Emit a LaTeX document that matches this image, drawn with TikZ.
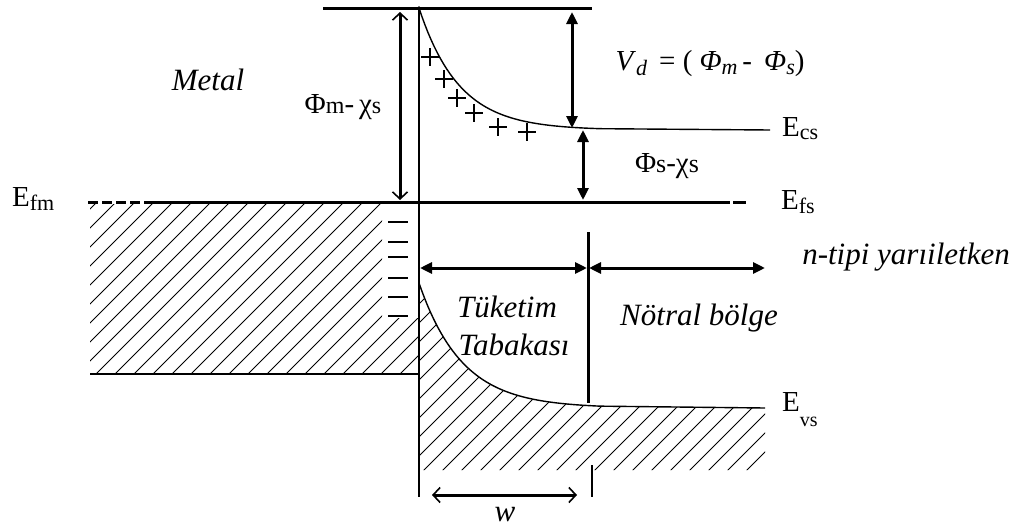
\documentclass[tikz,border=0pt]{standalone}
\usepackage{fontspec}
\setmainfont{Liberation Serif}
\usetikzlibrary{arrows.meta}
\newcommand{\fsz}[1]{\fontsize{#1}{#1}\selectfont}
\newcommand{\lowsub}[3]{\raisebox{-#1}{\fsz{#2}#3}}
\begin{document}
\begin{tikzpicture}[x=1pt,y=-1pt,
  thickline/.style={line width=3pt},
  thinline/.style={line width=1.4pt},
  hatchline/.style={line width=1pt},
  fillarrow/.style={line width=3pt,{Triangle[length=12pt,width=11pt]}-{Triangle[length=12pt,width=11pt]}},
  barbarrow/.style={line width=3pt,{Straight Barb[length=7pt,width=15pt,line width=1.6pt]}-{Straight Barb[length=7pt,width=15pt,line width=1.6pt]}},
  lab/.style={font=\fsz{29}, inner sep=0pt, anchor=center},
  itlab/.style={font=\fsz{31}\itshape, inner sep=0pt, anchor=center},
]
\useasboundingbox (0,0) rectangle (1021,530);

% ---- hatching (metal) ----
\begin{scope}
\clip (90,204) -- (382,204) -- (382,318) -- (419,318) -- (419,374) -- (90,374) -- cycle;
\foreach \i in {-10,...,18} \draw[hatchline] (90+19*\i,380) -- ++(190,-190);
\end{scope}
% ---- hatching (semiconductor valence) ----
\begin{scope}
\clip plot[domain=419:600,samples=60] (\x,{408-125*exp(-(\x-419)/43)}) -- (765,408) -- (765,470) -- (419,470) -- cycle;
\foreach \i in {-10,...,20} \draw[hatchline] (419+19*\i,475) -- ++(200,-200);
\end{scope}

% ---- coordinates ----
\coordinate (topL) at (323,8);
\coordinate (topR) at (592,8);
\coordinate (ifTop) at (419,8);
\coordinate (ifBot) at (419,497);
\coordinate (csEnd) at (770,130);
\coordinate (fmL) at (88,202);
\coordinate (fmS) at (145,202);
\coordinate (fsR) at (730,202);
\coordinate (fsD1) at (733,202);
\coordinate (fsD2) at (746,202);
\coordinate (mbL) at (90,374);
\coordinate (mbR) at (419,374);
\coordinate (vbEnd) at (765,408);
\coordinate (a1t) at (400,12);
\coordinate (a1b) at (400,200);
\coordinate (a2t) at (572,12);
\coordinate (a2b) at (572,128);
\coordinate (a3t) at (583,130);
\coordinate (a3b) at (583,200);
\coordinate (d1L) at (420,268);
\coordinate (d1R) at (587,268);
\coordinate (d2L) at (589,268);
\coordinate (d2R) at (765,268);
\coordinate (vT) at (588,232);
\coordinate (vB) at (588,403);
\coordinate (sT) at (592,465);
\coordinate (sB) at (592,497);
\coordinate (wL) at (432,495);
\coordinate (wR) at (577,495);

% ---- levels ----
\draw[thickline] (topL) -- (topR);
\draw[line width=1.5pt] (ifTop) -- (ifBot);
\fill (ifTop) circle (1.8pt);
\draw[thinline] plot[domain=419:600,samples=60] (\x,{130-122*exp(-(\x-419)/40)}) -- (csEnd);
\draw[thickline, dash pattern=on 10pt off 4pt] (fmL) -- (fmS);
\draw[thickline] (fmS) -- (fsR);
\draw[thickline] (fsD1) -- (fsD2);
\draw[thinline] (mbL) -- (mbR);
\draw[thinline] plot[domain=419:600,samples=60] (\x,{408-125*exp(-(\x-419)/43)}) -- (vbEnd);

% ---- charges ----
\foreach \x/\y in {430/57, 444/79, 457/98, 474/113, 498/127, 527/132}
  \draw[line width=1.4pt] (\x-9,\y) -- (\x+9,\y) (\x,\y-9) -- (\x,\y+9);
\foreach \y in {222,242,257,278,297,316}
  \draw[line width=2pt] (388,\y) -- (408,\y);

% ---- arrows ----
\draw[barbarrow] (a1t) -- (a1b);
\draw[fillarrow] (a2t) -- (a2b);
\draw[fillarrow] (a3t) -- (a3b);
\draw[fillarrow] (d1L) -- (d1R);
\draw[fillarrow] (d2L) -- (d2R);
\draw[line width=3pt] (vT) -- (vB);
\draw[line width=1.5pt] (sT) -- (sB);
\draw[barbarrow] (wL) -- (wR);

% ---- labels ----
\node[itlab] (metal) at (208,80) {Metal};
\node[lab] (phimchi) at (343,107) {Φ{\fsz{24}m}-\,χ{\fsz{24}s}};
\node[lab, anchor=base west] (efm) at (12,206) {E\lowsub{4pt}{22}{fm}};
\node[lab] (vd) at (710,64) {\textit{V}\lowsub{5pt}{22}{\textit{d}} \,= ( \textit{Φ}\lowsub{4pt}{22}{\textit{m}}\,-\, \textit{Φ}\lowsub{4pt}{22}{\textit{s}})};
\node[lab, anchor=base west] (ecs) at (782,136) {E\lowsub{3pt}{22}{cs}};
\node[lab] (phischi) at (667,166) {Φ{\fsz{26}s}-χ{\fsz{26}s}};
\node[lab, anchor=base west] (efs) at (781,209) {E\lowsub{4pt}{22}{fs}};
\node[itlab] (ntip) at (906,257) {n-tipi yarıiletken};
\node[itlab] (tuk) at (507,307) {Tüketim};
\node[itlab] (tab) at (514,345) {Tabakası};
\node[itlab] (notr) at (699,318) {Nötral bölge};
\node[lab, anchor=base west] (evs) at (782,411) {E\lowsub{15pt}{20}{vs}};
\node[itlab] (w) at (505,515) {w};
\end{tikzpicture}
\end{document}
